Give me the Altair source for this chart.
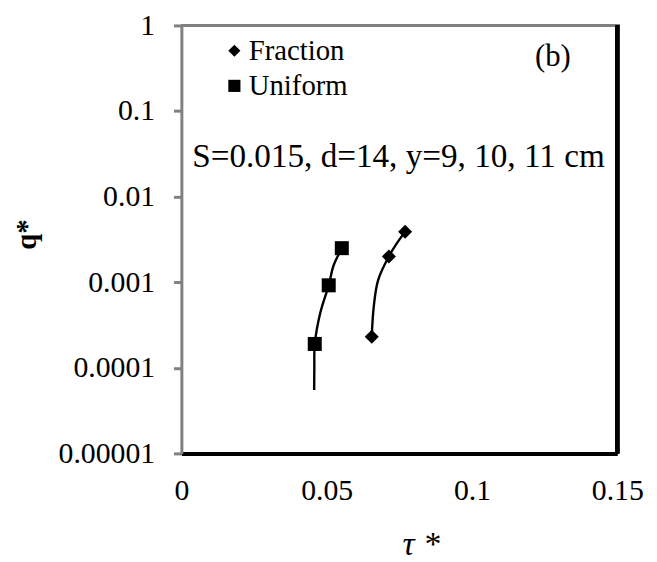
import altair as alt
import pandas as pd

# ---- data ----
series_names = ["Fraction", "Uniform"]
fraction_tau = [0.0655, 0.0714, 0.0770]
fraction_q = [0.00023, 0.0020, 0.0039]
uniform_tau = [0.0459, 0.0507, 0.0552]
uniform_q = [0.00019, 0.00092, 0.0025]

# trend-line curves
fraction_trend_tau = [0.0770, 0.0740, 0.0714, 0.0677, 0.0662, 0.0655]
fraction_trend_q = [0.0039, 0.0028, 0.0020, 0.00106, 0.00052, 0.00023]
uniform_trend_tau = [0.0553, 0.0524, 0.0507, 0.0478, 0.0459, 0.04575, 0.0457]
uniform_trend_q = [0.0025, 0.00158, 0.00092, 0.00044, 0.00019, 0.0001, 0.000055]

x_ticks = [0, 0.05, 0.1, 0.15]
y_ticks = [0.00001, 0.0001, 0.001, 0.01, 0.1, 1]

annotation = "S=0.015, d=14, y=9, 10, 11 cm"
panel_label = "(b)"

FONT = "Liberation Serif"
W, H = 440, 432

pts = pd.DataFrame({
    "tau": fraction_tau + uniform_tau,
    "q": fraction_q + uniform_q,
    "series": ["Fraction"] * len(fraction_tau) + ["Uniform"] * len(uniform_tau),
})
trend = pd.DataFrame({
    "tau": fraction_trend_tau + uniform_trend_tau,
    "q": fraction_trend_q + uniform_trend_q,
    "series": ["Fraction"] * len(fraction_trend_tau) + ["Uniform"] * len(uniform_trend_tau),
    "seq": list(range(len(fraction_trend_tau))) + list(range(len(uniform_trend_tau))),
})

xscale = alt.Scale(domain=[0, 0.15], nice=False, zero=False)
yscale = alt.Scale(type="log", domain=[0.00001, 1], nice=False)

xaxis = alt.Axis(values=x_ticks, format=".2~f", title=None, grid=False,
                 ticks=False, domainColor="black", domainWidth=4,
                 labelFont=FONT, labelFontSize=30, labelColor="black",
                 labelPadding=23, labelFlush=False, labelOverlap=False)
yaxis = alt.Axis(values=y_ticks, format=".5~f", title=None, grid=False,
                 ticks=True, tickSize=8, tickColor="#808080", tickWidth=3,
                 domainColor="#808080", domainWidth=3,
                 labelFont=FONT, labelFontSize=30, labelColor="black",
                 labelPadding=19, labelFlush=False, labelOverlap=False)

lines = alt.Chart(trend).mark_line(color="black", strokeWidth=2.4,
                                   interpolate="catmull-rom").encode(
    x=alt.X("tau:Q", scale=xscale, axis=xaxis),
    y=alt.Y("q:Q", scale=yscale, axis=yaxis),
    detail="series:N",
    order="seq:Q",
)

points = alt.Chart(pts).mark_point(filled=True, opacity=1, color="black", size=200).encode(
    x=alt.X("tau:Q", scale=xscale),
    y=alt.Y("q:Q", scale=yscale),
    shape=alt.Shape("series:N",
                    scale=alt.Scale(domain=series_names, range=["diamond", "square"]),
                    legend=alt.Legend(title=None, orient="none", legendX=39, legendY=11,
                                      symbolSize=150, symbolFillColor="black",
                                      symbolStrokeColor="black", symbolStrokeWidth=0,
                                      labelFont=FONT, labelFontSize=29, labelColor="black",
                                      labelOffset=0, rowPadding=5.5, padding=0)),
)

top_rule = alt.Chart(pts).mark_rule(color="#808080", strokeWidth=3).encode(
    x=alt.value(0), x2=alt.value(W + 2), y=alt.value(0))
right_rule = alt.Chart(pts).mark_rule(color="black", strokeWidth=4).encode(
    x=alt.value(W), y=alt.value(0), y2=alt.value(H))

def label(txt, x, y, size=28, **kw):
    return alt.Chart(pd.DataFrame({"t": [txt]})).mark_text(
        font=FONT, fontSize=size, color="black", **kw).encode(
        text="t:N", x=alt.value(x), y=alt.value(y))

panel = label(panel_label, 375, 32, size=31, align="center", baseline="middle")
ann = label(annotation, 11, 143, size=33.5, align="left", baseline="alphabetic")
ytitle = label("q*", -156, 211, size=29, align="center", baseline="middle",
               angle=270, fontWeight="bold")
xtitle = label("τ *", 242, 525, size=34, align="center", baseline="middle",
               fontStyle="italic")

chart = alt.layer(top_rule, right_rule, lines, points, panel, ann, ytitle, xtitle).properties(
    width=W, height=H,
    autosize=alt.AutoSizeParams(type="none"),
    padding={"left": 175, "top": 15, "right": 32, "bottom": 107},
).configure_view(stroke=None).configure(background="white")

chart.save("out.html", embed_options={"renderer": "svg", "actions": False})
